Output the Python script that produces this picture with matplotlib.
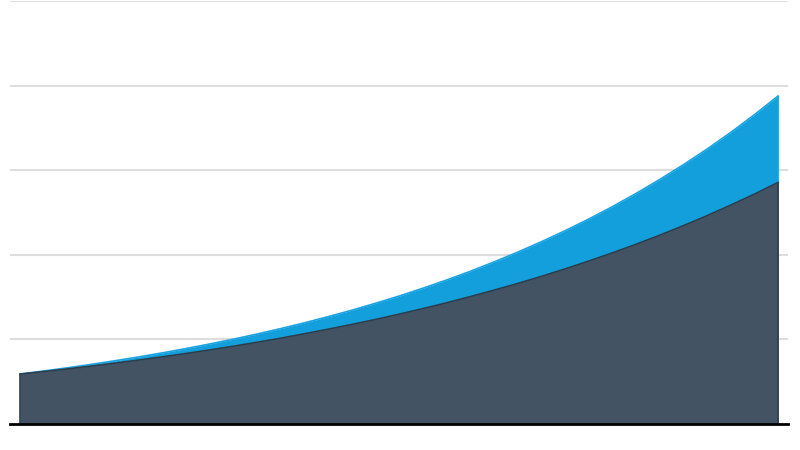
import matplotlib

matplotlib.use("Agg")
import matplotlib.pyplot as plt

# values (gridline step = 1 unit)
periods = list(range(33))
base_values = [0.590, 0.620, 0.651, 0.684, 0.719, 0.755, 0.793, 0.833, 0.875,
               0.919, 0.966, 1.014, 1.066, 1.120, 1.176, 1.235, 1.298, 1.363,
               1.432, 1.505, 1.581, 1.660, 1.744, 1.832, 1.925, 2.022, 2.124,
               2.231, 2.344, 2.462, 2.587, 2.717, 2.855]
total_values = [0.590, 0.626, 0.664, 0.704, 0.747, 0.792, 0.840, 0.891, 0.945,
                1.002, 1.063, 1.127, 1.195, 1.268, 1.344, 1.426, 1.512, 1.604,
                1.701, 1.804, 1.914, 2.030, 2.153, 2.283, 2.421, 2.568, 2.724,
                2.889, 3.064, 3.249, 3.446, 3.655, 3.877]

DARK = "#435363"
BLUE = "#139fdb"

fig = plt.figure(figsize=(8, 4.5), dpi=100)
ax = fig.add_axes([0.0125, 0.0578, 0.9725, 0.94])

ax.fill_between(periods, 0, total_values, color=BLUE, linewidth=0, zorder=2)
ax.plot(periods, total_values, color="#1aa3e0", linewidth=1.2, zorder=3)
ax.fill_between(periods, 0, base_values, color=DARK, linewidth=0, zorder=4)
ax.plot(periods, base_values, color="#2f3d4b", linewidth=1.2, zorder=5)
ax.vlines([periods[0], periods[-1]], 0, [base_values[0], base_values[-1]],
          color="#2f3d4b", linewidth=1.2, zorder=5)
ax.vlines([periods[-1]], base_values[-1], total_values[-1],
          color="#1aa3e0", linewidth=1.2, zorder=3)

pad = 0.42
ax.set_xlim(periods[0] - pad, periods[-1] + pad)
ax.set_ylim(0, 5)
ax.set_yticks([1, 2, 3, 4, 5])
ax.yaxis.grid(True, color="#dddddd", linewidth=1.5, zorder=0)
ax.set_axisbelow(True)
ax.tick_params(left=False, bottom=False, labelleft=False, labelbottom=False)
for side in ("top", "right", "left"):
    ax.spines[side].set_visible(False)
ax.spines["bottom"].set_color("black")
ax.spines["bottom"].set_linewidth(2)
ax.spines["bottom"].set_zorder(6)

fig.savefig("out.png", dpi=100)
